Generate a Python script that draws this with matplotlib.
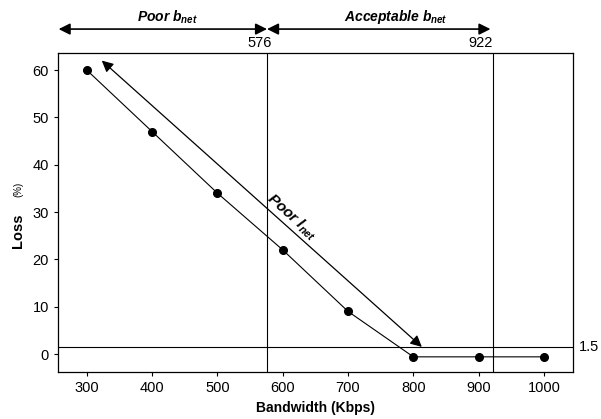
import matplotlib
matplotlib.use("Agg")
import matplotlib.pyplot as plt

# données
bandwidth = [300, 400, 500, 600, 700, 800, 900, 1000]
loss = [60, 47, 34, 22, 9, -0.6, -0.6, -0.6]

B_POOR = 576        # limite bande passante faible
B_OK = 922          # limite bande passante acceptable
LOSS_THR = 1.5      # seuil de perte
ARROW_START = (323, 62)
ARROW_END = (813, 1.5)

plt.rcParams["font.family"] = ["Liberation Sans", "DejaVu Sans"]
plt.rcParams["mathtext.fontset"] = "custom"
plt.rcParams["mathtext.it"] = "Liberation Sans:italic:bold"
plt.rcParams["mathtext.rm"] = "Liberation Sans:bold"

fig = plt.figure(figsize=(6.01, 4.19), dpi=100)
ax = fig.add_axes([0.0965, 0.1122, 0.8565, 0.7613])

ax.plot(bandwidth, loss, "k-", lw=0.8, marker="o", ms=5.5)

ax.axvline(B_POOR, color="k", lw=0.8)
ax.axvline(B_OK, color="k", lw=0.8)
ax.axhline(LOSS_THR, color="k", lw=0.8)

ax.annotate("", xy=ARROW_START, xytext=ARROW_END,
            arrowprops=dict(arrowstyle="<|-|>", color="k", lw=0.9,
                            mutation_scale=17, shrinkA=0, shrinkB=0))
ax.text(614, 29, r"Poor $l_{net}$", rotation=-41.8, rotation_mode="anchor",
        ha="center", va="center", fontsize=11, fontweight="bold", style="italic")

ax.set_xlim(256, 1044)
ax.set_ylim(-3.8, 63.6)
ax.set_xticks(bandwidth)
ax.set_yticks([0, 10, 20, 30, 40, 50, 60])
ax.tick_params(labelsize=10.5, length=3, width=0.8, direction="out")
for s in ax.spines.values():
    s.set_linewidth(0.9)

# flèches au-dessus du cadre
trans = ax.get_xaxis_transform()
arr = dict(arrowstyle="<|-|>", color="k", lw=1.2, mutation_scale=17,
           shrinkA=0, shrinkB=0)
ax.annotate("", xy=(257, 1.075), xytext=(B_POOR, 1.075), xycoords=trans,
            textcoords=trans, arrowprops=arr, annotation_clip=False)
ax.annotate("", xy=(B_POOR, 1.075), xytext=(918, 1.075), xycoords=trans,
            textcoords=trans, arrowprops=arr, annotation_clip=False)
ax.text(424, 1.113, r"Poor $b_{net}$", transform=trans, ha="center", va="center",
        fontsize=10, fontweight="bold", style="italic")
ax.text(773, 1.113, r"Acceptable $b_{net}$", transform=trans, ha="center",
        va="center", fontsize=10, fontweight="bold", style="italic")
ax.text(564, 1.031, str(B_POOR), transform=trans, ha="center", va="center",
        fontsize=10.5)
ax.text(903, 1.031, str(B_OK), transform=trans, ha="center", va="center",
        fontsize=10.5)
ax.text(1054, LOSS_THR, "1.5", ha="left", va="center", fontsize=10.5)

ax.set_xlabel("Bandwidth (Kbps)", fontsize=10, fontweight="bold", labelpad=4)
fig.text(0.03, 0.450, "Loss", rotation=90, ha="center", va="center",
         fontsize=10.5, fontweight="bold")
fig.text(0.03, 0.549, "(%)", rotation=90, ha="center", va="center",
         fontsize=7)

fig.savefig("out.png", dpi=100)
